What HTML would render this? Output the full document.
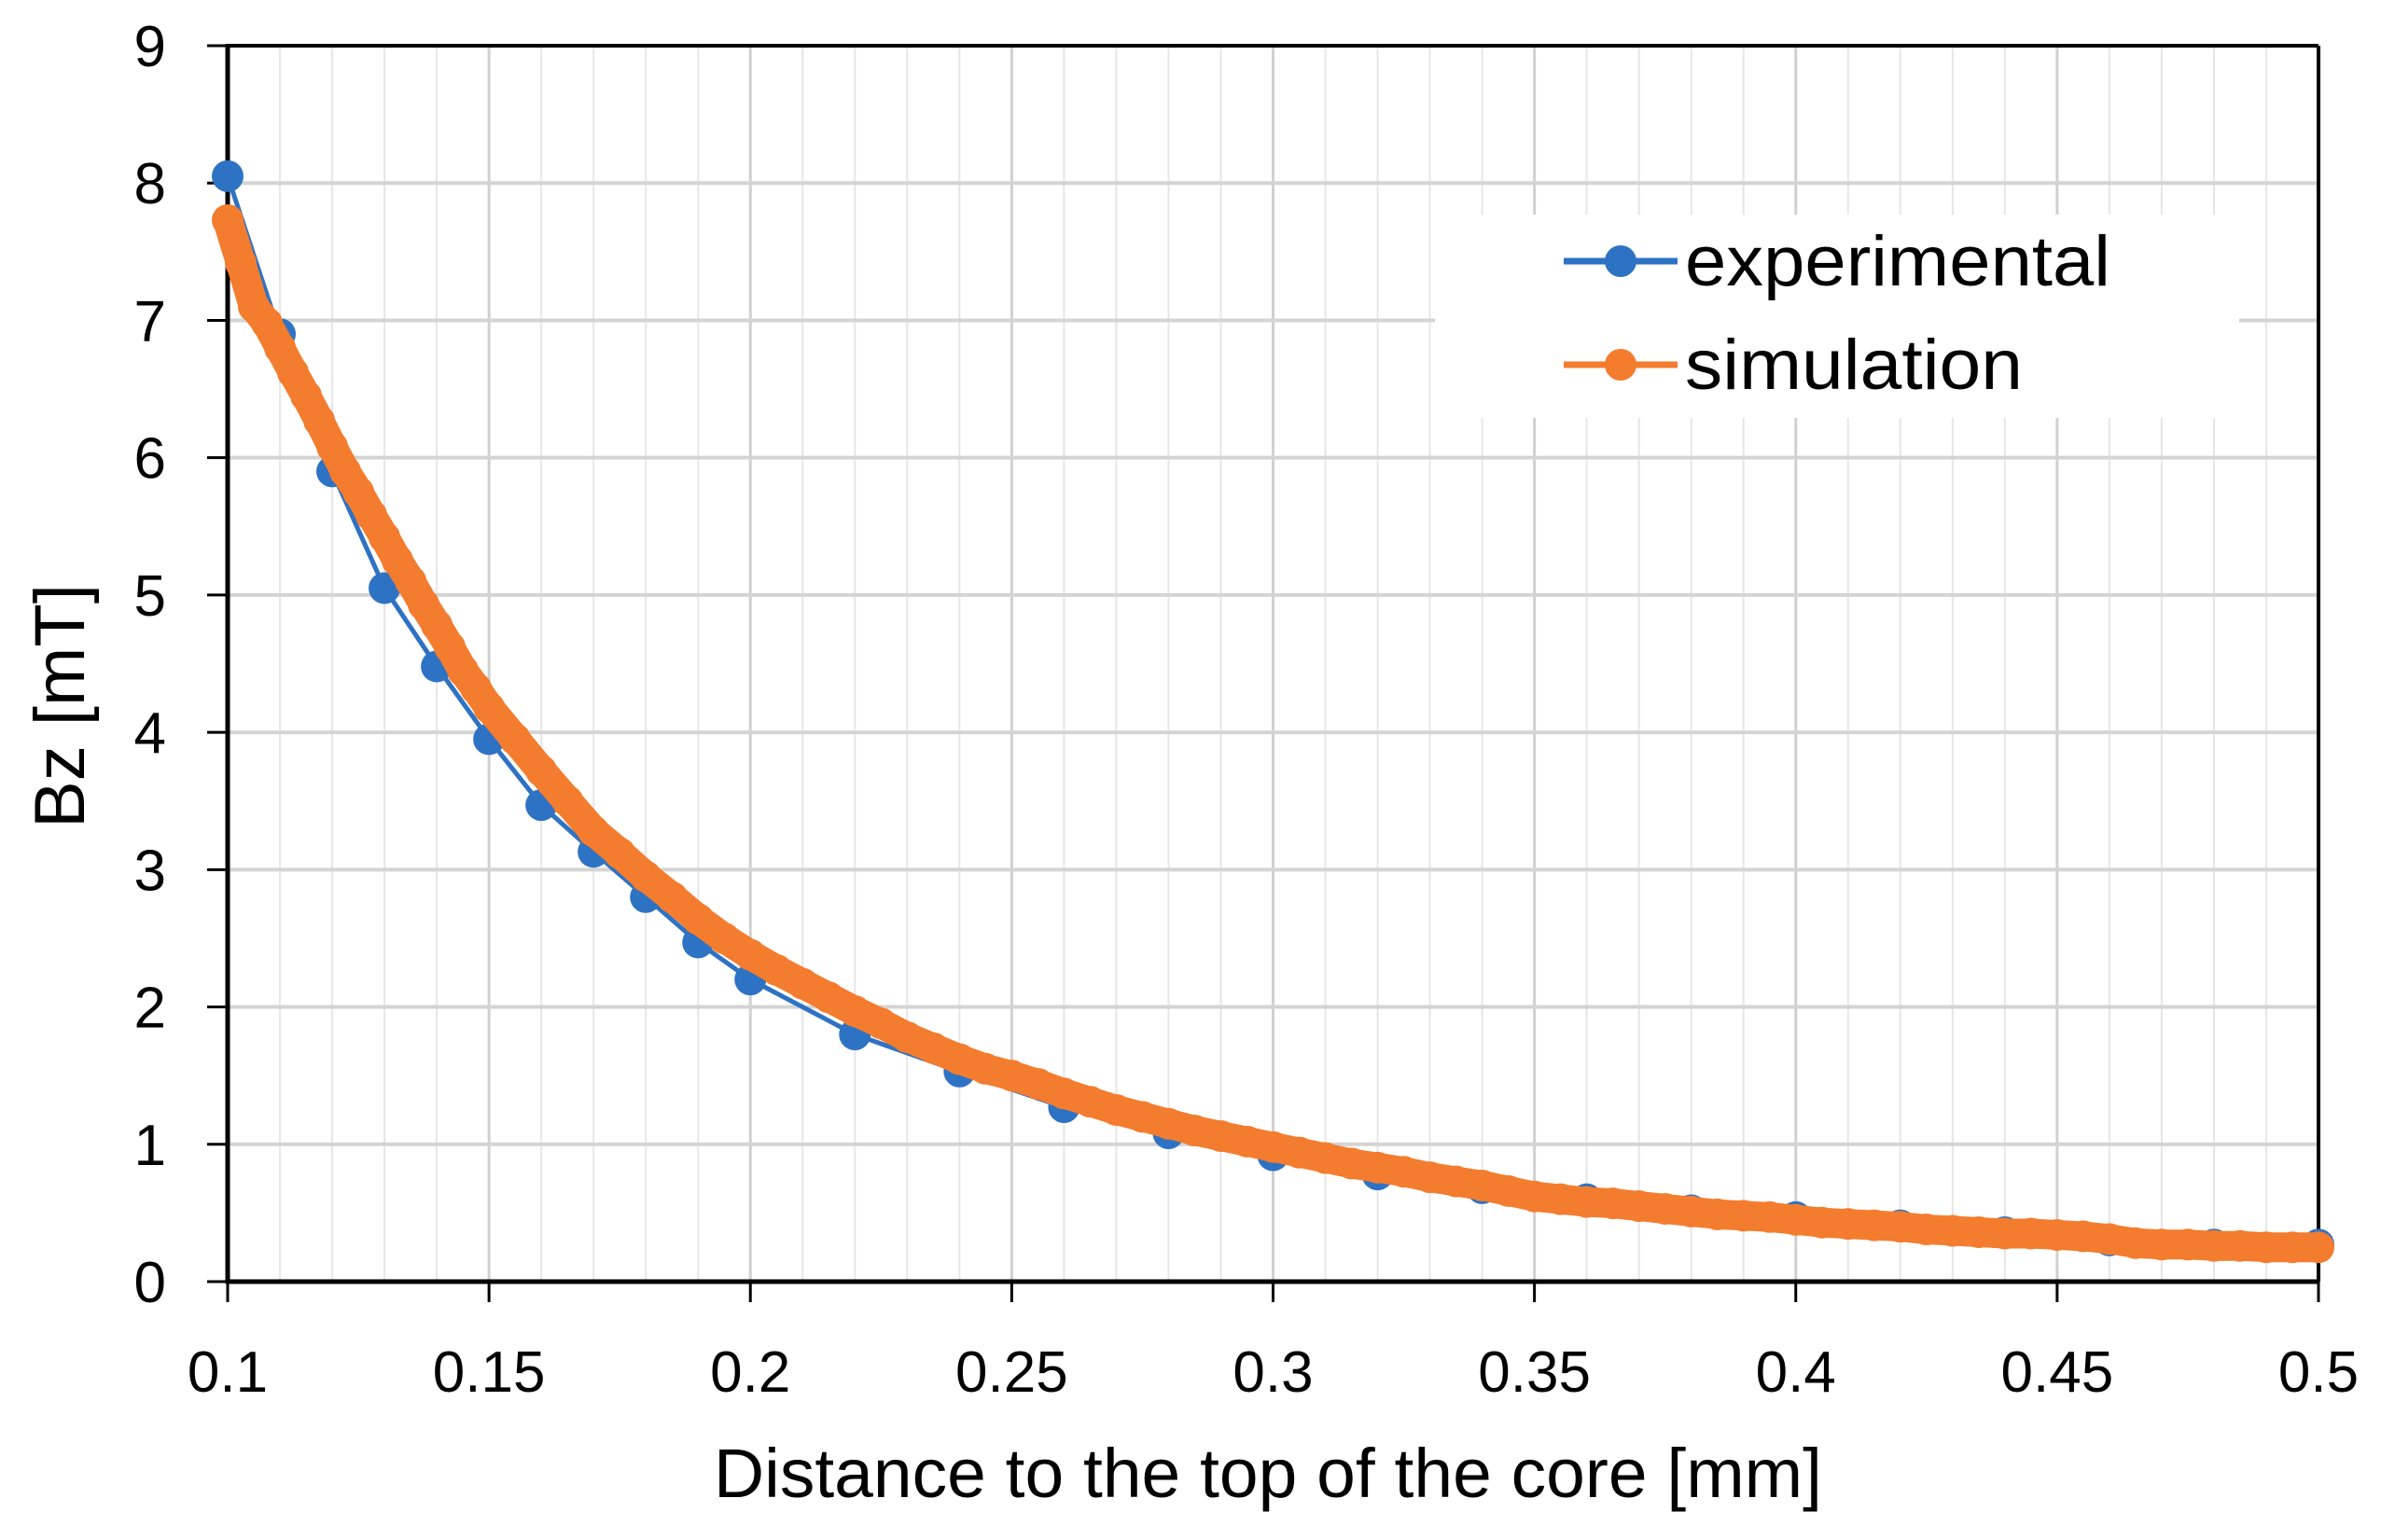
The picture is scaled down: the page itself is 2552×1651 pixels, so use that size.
<!DOCTYPE html>
<html><head><meta charset="utf-8"><style>
html,body{margin:0;padding:0;background:#fff;}
svg{display:block;font-family:"Liberation Sans",sans-serif;}
</style></head><body>
<svg id="chart" width="2552" height="1651" viewBox="0 0 2552 1651" xmlns="http://www.w3.org/2000/svg">
<g id="grid"></g>
<g id="axes"></g>
<g id="series"></g>
<g>
<rect x="1538" y="230" width="862" height="218" fill="#fff"/>
<g>
<line x1="1676" y1="280" x2="1798" y2="280" stroke="#2e72c4" stroke-width="7"/>
<circle cx="1737" cy="280" r="17" fill="#2e72c4"/>
<text x="1806" y="306" font-size="76" fill="#000" textLength="456" lengthAdjust="spacingAndGlyphs">experimental</text></g>
<g>
<line x1="1676" y1="391" x2="1798" y2="391" stroke="#f47c2e" stroke-width="7"/>
<circle cx="1737" cy="391" r="17" fill="#f47c2e"/>
<text x="1806" y="417" font-size="76" fill="#000" textLength="362" lengthAdjust="spacingAndGlyphs">simulation</text></g>
</g>
<text x="1359" y="1605" font-size="74" text-anchor="middle" textLength="1188" lengthAdjust="spacingAndGlyphs">Distance to the top of the core [mm]</text>
<text transform="translate(90,757) rotate(-90)" font-size="76" text-anchor="middle">Bz [mT]</text>
</svg>
<script>
const xTicks=[0.1,0.15,0.2,0.25,0.3,0.35,0.4,0.45,0.5];
const xTickLabels=["0.1","0.15","0.2","0.25","0.3","0.35","0.4","0.45","0.5"];
const yTicks=[0,1,2,3,4,5,6,7,8,9];
const expX=[0.1,0.11,0.12,0.13,0.14,0.15,0.16,0.17,0.18,0.19,0.2,0.22,0.24,0.26,0.28,0.3,0.32,0.34,0.36,0.38,0.4,0.42,0.44,0.46,0.48,0.5];
const expY=[8.05,6.9,5.9,5.05,4.48,3.95,3.47,3.13,2.8,2.47,2.2,1.8,1.53,1.27,1.08,0.92,0.78,0.68,0.6,0.52,0.47,0.41,0.36,0.3,0.27,0.27];
const simX=[0.1,0.1025,0.105,0.1075,0.11,0.1125,0.115,0.1175,0.12,0.1225,0.125,0.1275,0.13,0.1325,0.135,0.1375,0.14,0.1425,0.145,0.1475,0.15,0.155,0.16,0.165,0.17,0.175,0.18,0.185,0.19,0.195,0.2,0.205,0.21,0.215,0.22,0.225,0.23,0.235,0.24,0.245,0.25,0.255,0.26,0.265,0.27,0.275,0.28,0.285,0.29,0.295,0.3,0.305,0.31,0.315,0.32,0.325,0.33,0.335,0.34,0.345,0.35,0.355,0.36,0.365,0.37,0.375,0.38,0.385,0.39,0.395,0.4,0.405,0.41,0.415,0.42,0.425,0.43,0.435,0.44,0.445,0.45,0.455,0.46,0.465,0.47,0.475,0.48,0.485,0.49,0.495,0.5];
const simY=[7.73,7.42,7.1,6.98,6.8,6.62,6.45,6.27,6.08,5.9,5.75,5.58,5.42,5.25,5.1,4.93,4.78,4.62,4.45,4.32,4.18,3.95,3.72,3.5,3.28,3.12,2.95,2.8,2.64,2.5,2.38,2.27,2.17,2.07,1.97,1.88,1.78,1.7,1.62,1.55,1.5,1.44,1.37,1.31,1.25,1.2,1.15,1.1,1.06,1.02,0.98,0.94,0.9,0.86,0.83,0.8,0.76,0.73,0.7,0.66,0.62,0.6,0.58,0.57,0.55,0.53,0.51,0.49,0.48,0.47,0.45,0.43,0.42,0.41,0.4,0.38,0.37,0.36,0.35,0.35,0.34,0.33,0.31,0.28,0.27,0.27,0.26,0.26,0.25,0.25,0.25];
const L=244,R=2485,T=49,B=1374;
const xs=v=>L+(v-0.1)/(0.4)*(R-L);
const ys=v=>B-v/9*(B-T);
const NS="http://www.w3.org/2000/svg";
function mk(tag,attrs,parent){const e=document.createElementNS(NS,tag);for(const k in attrs)e.setAttribute(k,attrs[k]);parent.appendChild(e);return e;}
const grid=document.getElementById('grid'),axes=document.getElementById('axes'),series=document.getElementById('series');
for(let i=1;i<40;i++){const v=0.1+i*0.01;const major=i%5===0;
const l=mk('line',{x1:xs(v),x2:xs(v),y1:T,y2:B,stroke:major?'#d0d0d0':'#e6e6e6','stroke-width':major?3:2},grid);

}
yTicks.forEach(v=>{if(v>0){const l=mk('line',{x1:L,x2:R,y1:ys(v),y2:ys(v),stroke:'#d4d4d4','stroke-width':4},grid);

}
const t=mk('line',{x1:L-22,x2:L,y1:ys(v),y2:ys(v),stroke:'#000','stroke-width':3},axes);


const tx=mk('text',{x:178,y:ys(v)+22,'font-size':62,'text-anchor':'end'},axes);tx.textContent=v;

});
xTicks.forEach((v,i)=>{const t=mk('line',{x1:xs(v),x2:xs(v),y1:B,y2:B+22,stroke:'#000','stroke-width':3},axes);


const tx=mk('text',{x:xs(v),y:1492,'font-size':62,'text-anchor':'middle'},axes);tx.textContent=xTickLabels[i];

});
const ax1=mk('line',{x1:L,x2:L,y1:T-2,y2:B+2,stroke:'#000','stroke-width':5},axes);


const ax2=mk('line',{x1:L-2,x2:R,y1:B,y2:B,stroke:'#000','stroke-width':5},axes);


const ax3=mk('line',{x1:L,x2:R,y1:T,y2:T,stroke:'#000','stroke-width':4},axes);


const ax4=mk('line',{x1:R,x2:R,y1:T,y2:B,stroke:'#000','stroke-width':4},axes);


function draw(X,Y,color,name,band){
const g=mk('g',{},series);


const pts=X.map((x,i)=>xs(x)+','+ys(Y[i])).join(' ');
if(band){const b=mk('polyline',{points:pts,fill:'none',stroke:color,'stroke-width':32,'stroke-linejoin':'round','stroke-linecap':'round'},g);

}
const p=mk('polyline',{points:pts,fill:'none',stroke:color,'stroke-width':5,'stroke-linejoin':'round'},g);


X.forEach((x,i)=>{const c=mk('circle',{cx:xs(x),cy:ys(Y[i]),r:17,fill:color},g);

});}
draw(expX,expY,'#2e72c4','experimental',false);
draw(simX,simY,'#f47c2e','simulation',true);
</script>
</body></html>
